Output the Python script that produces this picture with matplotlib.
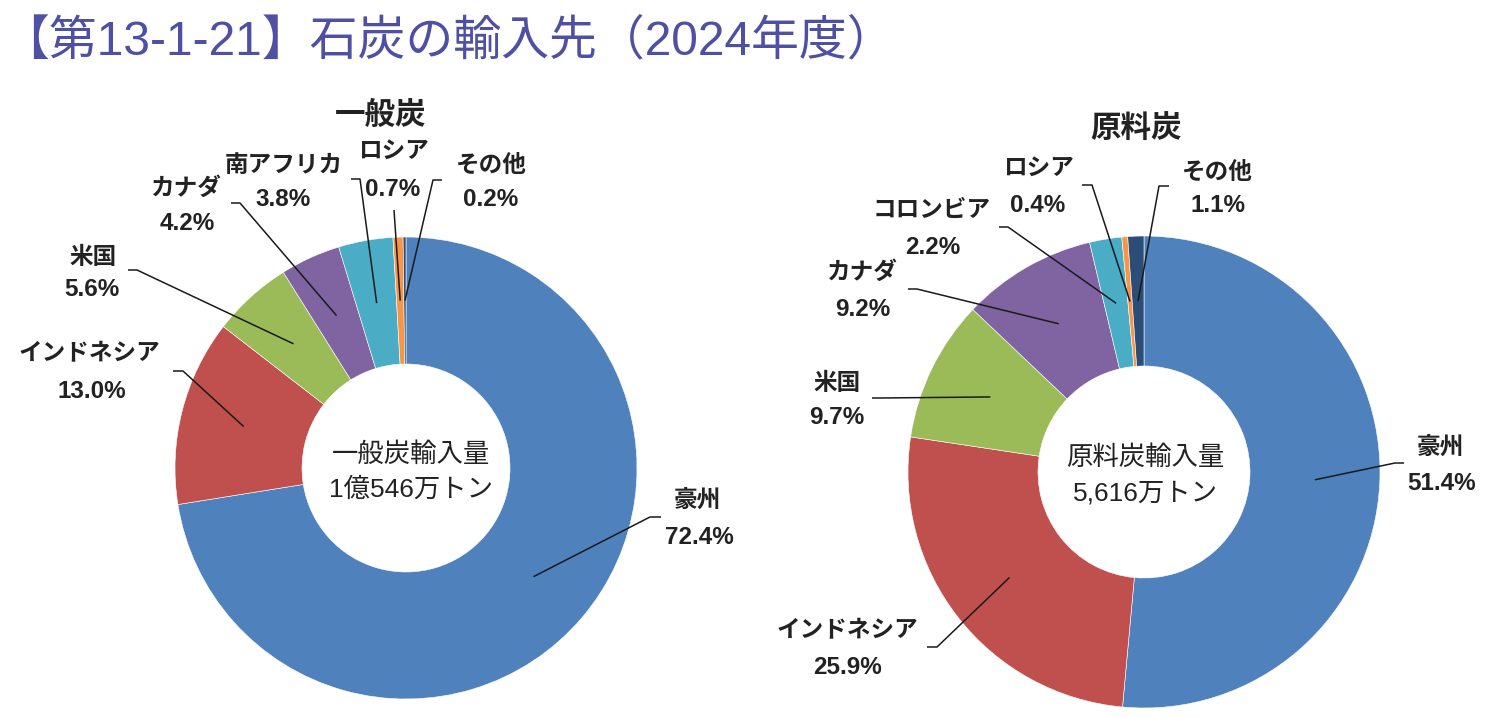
import numpy as np
import matplotlib
matplotlib.use("Agg")
import matplotlib.pyplot as plt
from matplotlib import font_manager as fm

# ---------------- data ----------------
title = "【第13-1-21】石炭の輸入先（2024年度）"

steam_title = "一般炭"
steam_labels = ["豪州", "インドネシア", "米国", "カナダ", "南アフリカ", "ロシア", "その他"]
steam_values = [72.4, 13.0, 5.6, 4.2, 3.8, 0.7, 0.2]
steam_center = ["一般炭輸入量", "1億546万トン"]

coking_title = "原料炭"
coking_labels = ["豪州", "インドネシア", "米国", "カナダ", "コロンビア", "ロシア", "その他"]
coking_values = [51.4, 25.9, 9.7, 9.2, 2.2, 0.4, 1.1]
coking_center = ["原料炭輸入量", "5,616万トン"]

# ---------------- style ----------------
W, H = 1485, 718
colors = ["#4F81BD", "#C0504D", "#9BBB59", "#8064A2", "#4BACC6", "#F79646", "#2C4D77"]
title_color = "#4F4FA3"
text_color = "#222222"

names = {f.name for f in fm.fontManager.ttflist}
latin = "Liberation Sans Narrow" if "Liberation Sans Narrow" in names else "Liberation Sans"
FAM = [latin, "Noto Sans CJK JP", "DejaVu Sans"]
plt.rcParams["font.family"] = FAM

fig = plt.figure(figsize=(W / 100, H / 100), dpi=100)
ax = fig.add_axes([0, 0, 1, 1])


def Y(y):
    return H - y


# layout (pixel coords, y from top)
left_geom = dict(cx=406, cy=468, R=231, r=104)
right_geom = dict(cx=1144, cy=472, R=236, r=106)

left_layout = {
    # label: (name_xy, pct_xy, elbow_xy, tick_end_xy)
    "豪州": ((697, 500), (699, 537), (650, 517), (661, 517)),
    "インドネシア": ((89, 353), (92, 392), (183, 371), (173, 371)),
    "米国": ((93, 257), (92, 290), (137, 270), (128, 270)),
    "カナダ": ((185, 188), (187, 223), (240, 203), (231, 203)),
    "南アフリカ": ((284, 165), (283, 199), (360, 179), (351, 179)),
    "ロシア": ((393, 151), (393, 189), (394, 210), (394, 210)),
    "その他": ((491, 165), (491, 200), (433, 180), (442, 180)),
}
right_layout = {
    "豪州": ((1440, 447), (1442, 483), (1395, 463), (1404, 463)),
    "インドネシア": ((847, 630), (847, 667), (937, 647), (927, 647)),
    "米国": ((837, 383), (837, 417), (880, 398), (872, 398)),
    "カナダ": ((862, 272), (863, 310), (917, 289), (908, 289)),
    "コロンビア": ((932, 210), (933, 247), (1008, 227), (999, 227)),
    "ロシア": ((1038, 168), (1038, 205), (1092, 185), (1082, 185)),
    "その他": ((1217, 172), (1218, 205), (1159, 186), (1169, 186)),
}


def donut(values, labels, geom, layout, head, head_xy, center_txt, center_xy):
    wedges, _ = ax.pie(values, radius=geom["R"], center=(geom["cx"], Y(geom["cy"])),
                       startangle=90, counterclock=False, colors=colors,
                       wedgeprops=dict(width=geom["R"] - geom["r"], edgecolor="white",
                                       linewidth=0.4))
    for w, lab, val in zip(wedges, labels, values):
        nxy, pxy, exy, txy = layout[lab]
        ang = np.deg2rad((w.theta1 + w.theta2) / 2)
        rm = w.r - w.width / 2
        sx = w.center[0] + rm * np.cos(ang)
        sy = w.center[1] + rm * np.sin(ang)
        ax.plot([sx, exy[0], txy[0]], [sy, Y(exy[1]), Y(txy[1])], color="#1a1a1a",
                lw=1.1, solid_capstyle="butt", zorder=5)
        ax.text(nxy[0], Y(nxy[1]), lab, ha="center", va="center", fontsize=17,
                fontweight="bold", color=text_color)
        ax.text(pxy[0], Y(pxy[1]), f"{val:.1f}%", ha="center", va="center",
                fontsize=17.5, fontweight="bold", color=text_color)
    ax.text(head_xy[0], Y(head_xy[1]), head, ha="center", va="center", fontsize=22,
            fontweight="bold", color=text_color)
    ax.text(center_xy[0], Y(center_xy[1]), center_txt[0], ha="center", va="center",
            fontsize=19, color=text_color)
    ax.text(center_xy[0], Y(center_xy[1] + 35), center_txt[1], ha="center", va="center",
            fontsize=19, color=text_color)


donut(steam_values, steam_labels, left_geom, left_layout, steam_title, (381, 116),
      steam_center, (411, 455))
donut(coking_values, coking_labels, right_geom, right_layout, coking_title, (1136, 130),
      coking_center, (1145, 458))

ax.text(1, Y(42), title, ha="left", va="center", fontsize=34.5, color=title_color)

ax.set_xlim(0, W)
ax.set_ylim(0, H)
ax.set_aspect("auto")
ax.axis("off")

fig.savefig("out.png", dpi=100, facecolor="white")
